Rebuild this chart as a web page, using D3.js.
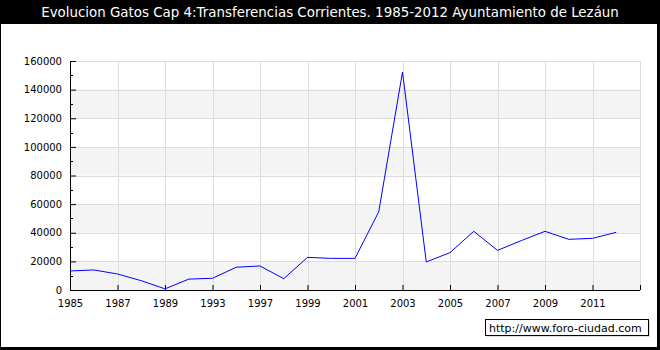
<!DOCTYPE html>
<html>
<head>
<meta charset="utf-8">
<script src="https://cdn.jsdelivr.net/npm/d3@7"></script>
<style>
  body { margin: 0; background: #fff; }
  svg text { font-family: "DejaVu Sans", Verdana, sans-serif; }
</style>
</head>
<body>
<div id="chart"></div>
<script>
// categories on the x axis (some years are skipped in the source)
var years = ["1985","1986","1987","1988","1989","1991","1993","1995","1997","1998","1999","2000",
             "2001","2002","2003","2004","2005","2006","2007","2008","2009","2010","2011","2012"]
var values = [13300, 14000, 11200, 6500, 800, 7600, 8200, 15900, 16800, 7900, 22800, 22100,
              22100, 54700, 152300, 19600, 26100, 41000, 27700, 34500, 41000, 35400, 36100, 40300]
var yTicks = [0, 20000, 40000, 60000, 80000, 100000, 120000, 140000, 160000]

var title = "Evolucion Gatos Cap 4:Transferencias Corrientes. 1985-2012 Ayuntamiento de Lezáun"

var width = 660, height = 350
var margin = { top: 61, right: 20, bottom: 60, left: 70 }
var plotW = width - margin.left - margin.right   // 570
var plotH = height - margin.top - margin.bottom  // 229

var svg = d3.select("#chart")
  .append("svg")
  .attr("width", width)
  .attr("height", height)

// frame + title bar
svg.append("rect").attr("x", 0).attr("y", 0).attr("width", width).attr("height", height).attr("fill", "#000")
svg.append("rect").attr("x", 1).attr("y", 24).attr("width", 656).attr("height", 323).attr("fill", "#fff")

svg.append("text")
  .attr("x", width / 2)
  .attr("y", 17)
  .attr("text-anchor", "middle")
  .attr("fill", "#fff")
  .style("font-size", "13.4px")
  .text(title)

var x = d3.scaleLinear().domain([0, years.length]).range([0, plotW])
var y = d3.scaleLinear().domain([0, 160000]).range([plotH, 0])

var g = svg.append("g").attr("transform", "translate(" + margin.left + "," + margin.top + ")")

// alternating bands
var bands = d3.range(0, yTicks.length - 1).filter(function(i) { return i % 2 == 0 })
g.selectAll(".band")
  .data(bands)
  .enter()
  .append("rect")
  .attr("x", 0)
  .attr("width", plotW)
  .attr("y", function(i) { return y(yTicks[i + 1]) })
  .attr("height", function(i) { return y(yTicks[i]) - y(yTicks[i + 1]) })
  .attr("fill", "#f4f4f4")

// grid
var xTickIdx = d3.range(0, years.length + 1, 2)
g.selectAll(".vgrid")
  .data(xTickIdx)
  .enter()
  .append("line")
  .attr("x1", function(d) { return Math.round(x(d)) + 0.5 })
  .attr("x2", function(d) { return Math.round(x(d)) + 0.5 })
  .attr("y1", 0)
  .attr("y2", plotH)
  .attr("stroke", "#dcdcdc")

g.selectAll(".hgrid")
  .data(yTicks)
  .enter()
  .append("line")
  .attr("x1", 0)
  .attr("x2", plotW)
  .attr("y1", function(d) { return Math.round(y(d)) + 0.5 })
  .attr("y2", function(d) { return Math.round(y(d)) + 0.5 })
  .attr("stroke", "#dcdcdc")

// y axis
var yAxis = d3.axisLeft(y)
  .tickValues(yTicks)
  .tickSize(-6)
  .tickPadding(8)
  .tickFormat(d3.format("d"))
var ya = g.append("g").call(yAxis)
ya.select(".domain").remove()
ya.selectAll("line").attr("stroke", "#000")
ya.selectAll("text").style("font-size", "10px").attr("fill", "#000")
g.selectAll(".minor")
  .data(d3.range(10000, 160000, 20000))
  .enter()
  .append("line")
  .attr("x1", 0).attr("x2", 3)
  .attr("y1", function(d) { return Math.round(y(d)) + 0.5 })
  .attr("y2", function(d) { return Math.round(y(d)) + 0.5 })
  .attr("stroke", "#000")
g.append("line")
  .attr("x1", 0.5).attr("x2", 0.5).attr("y1", 0).attr("y2", plotH)
  .attr("stroke", "#000")

// x axis
var xAxis = d3.axisBottom(x)
  .tickValues(xTickIdx)
  .tickSize(-5)
  .tickPadding(10)
  .tickFormat(function(d) { return years[d] || "" })
var xa = g.append("g").attr("transform", "translate(0," + plotH + ")").call(xAxis)
xa.select(".domain").remove()
xa.selectAll("line").attr("stroke", "#000")
xa.selectAll("text").style("font-size", "10px").attr("fill", "#000")
g.append("line")
  .attr("x1", 0).attr("x2", plotW).attr("y1", plotH + 0.5).attr("y2", plotH + 0.5)
  .attr("stroke", "#000")

// series line
var line = d3.line()
  .x(function(d, i) { return x(i) })
  .y(function(d) { return y(d) })

g.append("path")
  .datum(values)
  .attr("fill", "none")
  .attr("stroke", "#0000ff")
  .attr("stroke-width", 1)
  .attr("d", line)

// watermark
var wm = svg.append("g").attr("transform", "translate(485,319)")
wm.append("rect").attr("x", 2).attr("y", 2).attr("width", 163).attr("height", 16).attr("fill", "#ddd")
wm.append("rect").attr("x", 0.5).attr("y", 0.5).attr("width", 163).attr("height", 16)
  .attr("fill", "#fff").attr("stroke", "#000")
wm.append("text")
  .attr("x", 4).attr("y", 12.5)
  .style("font-size", "11px")
  .attr("fill", "#000")
  .text("http://www.foro-ciudad.com")
</script>
</body>
</html>
